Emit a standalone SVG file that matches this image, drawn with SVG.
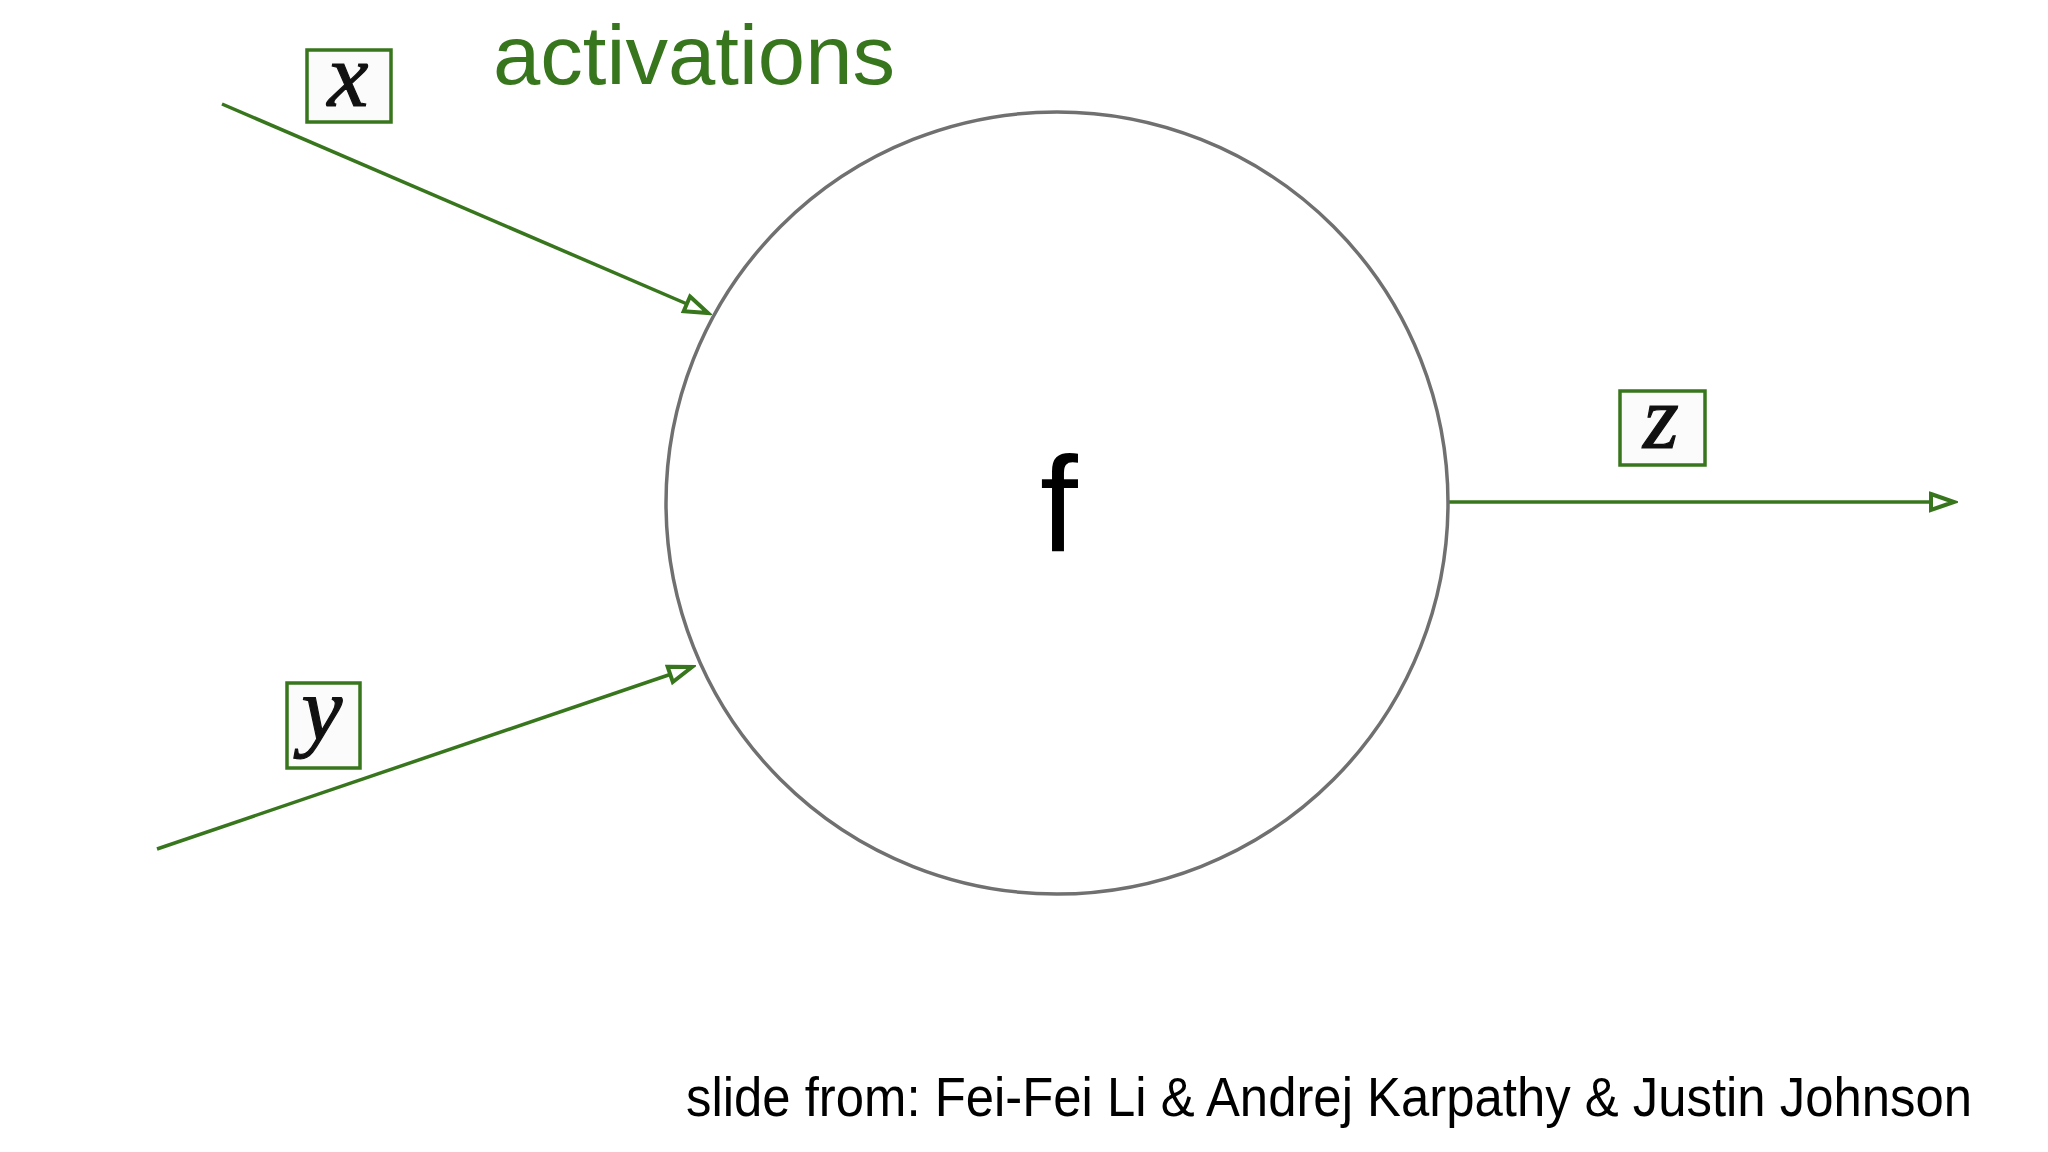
<svg xmlns="http://www.w3.org/2000/svg" width="2048" height="1152" viewBox="0 0 2048 1152">
  <style>
    .edge { stroke: #38761d; stroke-width: 3.5; fill: none; }
    .box { fill: #fbfbfb; stroke: #38761d; stroke-width: 3.5; }
    .math { font-family: "Liberation Serif", "DejaVu Serif", serif; font-style: italic; font-size: 92px; fill: #111; text-anchor: middle; stroke: #111; stroke-width: 1.2; }
    .sans { font-family: "Liberation Sans", Arial, sans-serif; }
  </style>
  <defs>
    <marker id="arrow" markerUnits="userSpaceOnUse" markerWidth="32" markerHeight="26" viewBox="0 0 32 26" refX="28" refY="13" orient="auto">
      <path d="M5,5 L28,13 L5,21 Z" fill="#ffffff" stroke="#38761d" stroke-width="4" stroke-linejoin="miter"/>
    </marker>
  </defs>
  <rect width="2048" height="1152" fill="#ffffff"/>

  <g id="title">
    <text x="493" y="84" class="sans" font-size="84" fill="#38761d" textLength="402" lengthAdjust="spacingAndGlyphs">activations</text>
  </g>

  <g id="connectors">
    <line class="edge" x1="222" y1="104" x2="708" y2="313" marker-end="url(#arrow)"/>
    <line class="edge" x1="157" y1="849" x2="692" y2="667" marker-end="url(#arrow)"/>
    <line class="edge" x1="1449" y1="502" x2="1954" y2="502" marker-end="url(#arrow)"/>
  </g>

  <g id="node-f">
    <circle cx="1057" cy="503" r="391" fill="none" stroke="#707070" stroke-width="3.5"/>
    <text x="1059" y="551" class="sans" font-size="136" fill="#000" text-anchor="middle">f</text>
  </g>

  <g id="label-x">
    <rect class="box" x="307" y="50" width="84" height="72"/>
    <text class="math" x="348" y="106">x</text>
  </g>

  <g id="label-y">
    <rect class="box" x="287" y="683" width="73" height="85"/>
    <text class="math" x="322" y="740">y</text>
  </g>

  <g id="label-z">
    <rect class="box" x="1620" y="391" width="85" height="74"/>
    <text class="math" x="1661" y="448">z</text>
  </g>

  <g id="footer">
    <text transform="translate(686,1116) scale(1,1.1)" x="0" y="0" class="sans" font-size="51" fill="#000" textLength="1286" lengthAdjust="spacingAndGlyphs">slide from: Fei-Fei Li &amp; Andrej Karpathy &amp; Justin Johnson</text>
  </g>
</svg>
